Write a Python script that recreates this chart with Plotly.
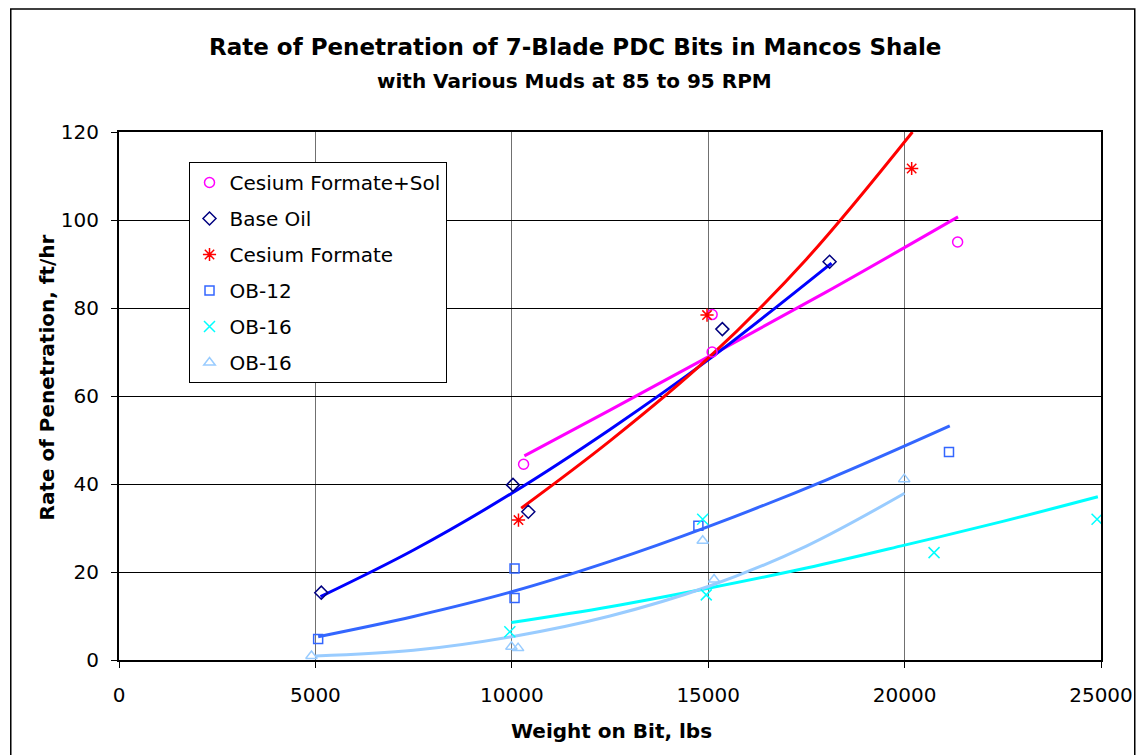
import plotly.graph_objects as go

# ---- data ----
cfs_wob = [10300, 15100, 15100, 21350]
cfs_rop = [44.5, 78.5, 70.0, 95.0]
cfs_fit_wob = [10320, 12500, 15000, 18000, 21360]
cfs_fit_rop = [46.4, 56.8, 68.9, 83.6, 100.7]

oil_wob = [5150, 10030, 10420, 15360, 18090]
oil_rop = [15.3, 39.8, 33.7, 75.2, 90.5]
oil_fit_wob = [5130, 7500, 10000, 12500, 15000, 18140]
oil_fit_rop = [14.4, 25.0, 37.9, 52.4, 68.2, 90.2]

cf_wob = [10170, 14970, 20180]
cf_rop = [31.8, 78.4, 111.7]
cf_fit_wob = [10240, 12500, 15000, 17500, 20200]
cf_fit_rop = [34.5, 49.8, 68.6, 91.1, 120.0]

ob12_wob = [5070, 10070, 10070, 14750, 21130]
ob12_rop = [4.8, 20.8, 14.1, 30.5, 47.3]
ob12_fit_wob = [5070, 7500, 10000, 12500, 15000, 18000, 21150]
ob12_fit_rop = [5.3, 9.9, 15.5, 22.4, 30.3, 40.9, 53.2]

ob16a_wob = [9950, 14860, 14950, 20750, 24900]
ob16a_rop = [6.4, 32.0, 14.8, 24.4, 32.0]
ob16a_fit_wob = [9990, 12500, 15000, 17500, 20000, 22500, 24920]
ob16a_fit_rop = [8.5, 12.1, 16.3, 20.9, 26.1, 31.5, 37.1]

ob16b_wob = [4900, 9990, 10160, 14860, 15150, 19990]
ob16b_rop = [0.9, 3.0, 2.7, 27.1, 18.3, 41.1]
ob16b_fit_wob = [5000, 7500, 10000, 12500, 15000, 17500, 20000]
ob16b_fit_rop = [0.9, 2.2, 5.3, 10.0, 16.7, 25.9, 37.9]

series_names = ["Cesium Formate+Sol", "Base Oil", "Cesium Formate", "OB-12", "OB-16", "OB-16"]
x_ticks = [0, 5000, 10000, 15000, 20000, 25000]
y_ticks = [0, 20, 40, 60, 80, 100, 120]

FONT = "DejaVu Sans"

series = [
    (series_names[0], cfs_wob, cfs_rop, cfs_fit_wob, cfs_fit_rop, "#FF00FF", "#FF00FF", "circle-open", 10),
    (series_names[1], oil_wob, oil_rop, oil_fit_wob, oil_fit_rop, "#0000FF", "#000080", "diamond-open", 10),
    (series_names[2], cf_wob, cf_rop, cf_fit_wob, cf_fit_rop, "#FF0000", "#FF0000", "asterisk-open", 11),
    (series_names[3], ob12_wob, ob12_rop, ob12_fit_wob, ob12_fit_rop, "#3366FF", "#3366FF", "square-open", 9),
    (series_names[4], ob16a_wob, ob16a_rop, ob16a_fit_wob, ob16a_fit_rop, "#00FFFF", "#00FFFF", "x-thin-open", 11),
    (series_names[5], ob16b_wob, ob16b_rop, ob16b_fit_wob, ob16b_fit_rop, "#99CCFF", "#99CCFF", "triangle-up-open", 10),
]

fig = go.Figure()
for i, (name, wx, wy, fx, fy, lc, mc, sym, ms) in enumerate(series):
    fig.add_trace(go.Scatter(x=fx, y=fy, mode="lines",
                             line=dict(color=lc, width=3, shape="spline", smoothing=1.0),
                             showlegend=False, legendgroup=f"g{i}", hoverinfo="skip"))
for i, (name, wx, wy, fx, fy, lc, mc, sym, ms) in enumerate(series):
    fig.add_trace(go.Scatter(x=wx, y=wy, mode="markers", name=name, legendgroup=f"g{i}",
                             marker=dict(symbol=sym, size=ms, color=mc, line=dict(color=mc, width=1.5))))

L, R, T, B = 119, 37, 132, 95
W, H = 1145, 755
pw, ph = W - L - R, H - T - B

def px_x(p):
    return (p - L) / pw

def px_y(p):
    return (H - B - p) / ph

fig.update_layout(
    width=W, height=H,
    margin=dict(l=L, r=R, t=T, b=B),
    paper_bgcolor="white", plot_bgcolor="white",
    font=dict(family=FONT, size=20, color="black"),
    legend=dict(x=px_x(189), y=px_y(162), xanchor="left", yanchor="top",
                bgcolor="white", bordercolor="black", borderwidth=1,
                font=dict(family=FONT, size=20, color="black"),
                tracegroupgap=7, traceorder="grouped"),
    xaxis=dict(range=[0, 25000], tickvals=x_ticks, ticktext=[str(v) for v in x_ticks],
               showgrid=True, gridcolor="#707070", gridwidth=1,
               showline=True, linecolor="black", linewidth=2, mirror=True,
               ticks="outside", ticklen=6, tickcolor="black", ticklabelstandoff=10,
               zeroline=False, tickfont=dict(family=FONT, size=20)),
    yaxis=dict(range=[0, 120], tickvals=y_ticks, ticktext=[str(v) for v in y_ticks],
               showgrid=True, gridcolor="black", gridwidth=1,
               showline=True, linecolor="black", linewidth=2, mirror=True,
               ticks="outside", ticklen=6, tickcolor="black", ticklabelstandoff=8,
               zeroline=False, tickfont=dict(family=FONT, size=20)),
    annotations=[
        dict(text="<b>Rate of Penetration of 7-Blade PDC Bits in Mancos Shale</b>",
             xref="paper", yref="paper", x=px_x(578), y=px_y(47), xanchor="center", yanchor="middle",
             showarrow=False, font=dict(family=FONT, size=23, color="black")),
        dict(text="<b>with Various Muds at 85 to 95 RPM</b>",
             xref="paper", yref="paper", x=px_x(578), y=px_y(81), xanchor="center", yanchor="middle",
             showarrow=False, font=dict(family=FONT, size=20, color="black")),
        dict(text="<b>Weight on Bit, lbs</b>",
             xref="paper", yref="paper", x=px_x(615), y=px_y(731), xanchor="center", yanchor="middle",
             showarrow=False, font=dict(family=FONT, size=20, color="black")),
        dict(text="<b>Rate of Penetration, ft/hr</b>", textangle=-90,
             xref="paper", yref="paper", x=px_x(46), y=px_y(378), xanchor="center", yanchor="middle",
             showarrow=False, font=dict(family=FONT, size=20, color="black")),
    ],
    shapes=[dict(type="rect", xref="paper", yref="paper",
                 x0=px_x(10), x1=px_x(1142), y0=px_y(770), y1=px_y(9),
                 line=dict(color="black", width=1.5), fillcolor="rgba(0,0,0,0)", layer="below")],
)

fig.write_html("out.html")
